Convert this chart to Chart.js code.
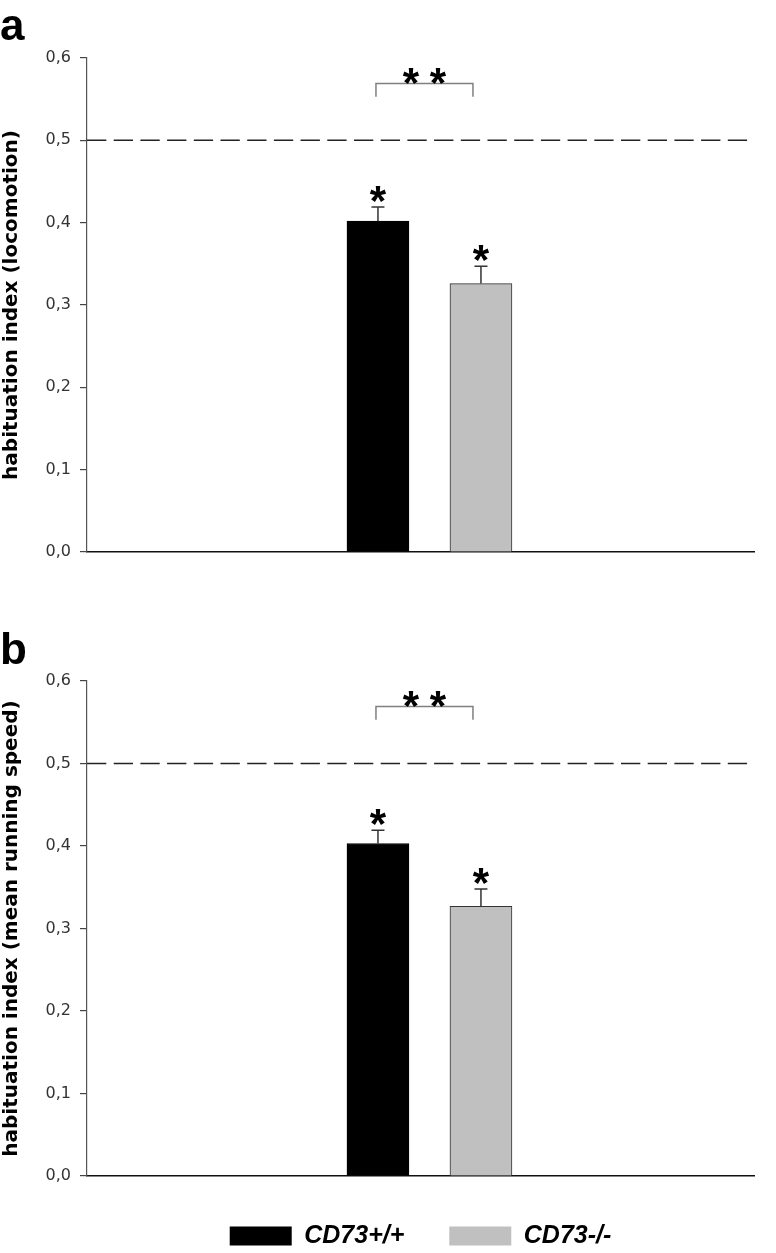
<!DOCTYPE html>
<html><head><meta charset="utf-8">
<script src="https://cdn.jsdelivr.net/npm/chart.js@4/dist/chart.umd.min.js"></script>
<style>
html,body{margin:0;padding:0;background:#fff;overflow:hidden;width:776px;height:1253px;}
#wa{position:absolute;left:0;top:0;width:776px;height:610px;}
#wb{position:absolute;left:0;top:620px;width:776px;height:633px;}
</style></head><body>
<div id="wa"><canvas id="ca"></canvas></div>
<div id="wb"><canvas id="cb"></canvas></div>
<script>
// ---- data ----
const groups = ['CD73+/+', 'CD73-/-'];
const groupIndex = [1, 2];
const barColors = ['#000000', '#c0c0c0'];
const barBorders = ['#000000', '#333333'];
const locomotionMeans = [0.402, 0.326];
const locomotionErrors = [0.017, 0.021];
const speedMeans = [0.403, 0.327];
const speedErrors = [0.016, 0.021];
const yTicks = [0, 0.1, 0.2, 0.3, 0.4, 0.5, 0.6];
const referenceLevel = 0.5;
const bracketLevel = 0.569;
const bracketFoot = 0.553;
const panelLetters = ['a', 'b'];
const yTitles = ['habituation index (locomotion)', 'habituation index (mean running speed)'];
const barStars = ['*', '*'];
const pairStars = ['*', '*'];

// ---- drawing helpers ----
function starAt(ctx, cx, cy) {
  ctx.font = 'bold 42px "Liberation Sans", Arial, sans-serif';
  ctx.textAlign = 'center';
  ctx.textBaseline = 'alphabetic';
  const m = ctx.measureText('*');
  const base = cy + (m.actualBoundingBoxAscent - m.actualBoundingBoxDescent) / 2;
  ctx.fillStyle = '#000';
  ctx.fillText('*', cx, base);
}

const marksPlugin = {
  id: 'marks',
  afterDatasetsDraw(chart, args, opts) {
    const {ctx, chartArea, scales: {y}} = chart;
    const meta = chart.getDatasetMeta(0);
    ctx.save();
    // reference dashed line
    const yr = y.getPixelForValue(referenceLevel);
    ctx.setLineDash([19.3, 7.4]);
    ctx.lineWidth = 1.5;
    ctx.strokeStyle = '#222';
    ctx.beginPath();
    ctx.moveTo(chartArea.left, yr);
    ctx.lineTo(chartArea.right, yr);
    ctx.stroke();
    ctx.setLineDash([]);
    // error bars + stars
    opts.means.forEach((m, i) => {
      const bar = meta.data[i];
      const yt = y.getPixelForValue(m);
      const ye = y.getPixelForValue(m + opts.errors[i]);
      ctx.strokeStyle = '#333';
      ctx.lineWidth = 1.5;
      ctx.beginPath();
      ctx.moveTo(bar.x, yt);
      ctx.lineTo(bar.x, ye);
      ctx.moveTo(bar.x - 6.5, ye);
      ctx.lineTo(bar.x + 6.5, ye);
      ctx.stroke();
      if (barStars[i]) starAt(ctx, bar.x, ye - 13);
    });
    // significance bracket
    const x1 = meta.data[0].x - 2;
    const x2 = meta.data[1].x - 8;
    const yb = y.getPixelForValue(bracketLevel);
    const yf = y.getPixelForValue(bracketFoot);
    ctx.strokeStyle = '#808080';
    ctx.lineWidth = 1.5;
    ctx.beginPath();
    ctx.moveTo(x1, yf);
    ctx.lineTo(x1, yb);
    ctx.lineTo(x2, yb);
    ctx.lineTo(x2, yf);
    ctx.stroke();
    const xm = (x1 + x2) / 2;
    pairStars.forEach((s, k) => starAt(ctx, xm + (k === 0 ? -13.5 : 13.5), yb - 7.5));
    ctx.restore();
  }
};

function makeConfig(means, errors, letter, yTitle, titlePad, withLegend, xAxisHeight, padBottom) {
  return {
    type: 'bar',
    data: {
      datasets: [{
        data: groups.map((g, i) => ({x: groupIndex[i], y: means[i]})),
        backgroundColor: barColors,
        borderColor: barBorders,
        borderWidth: 1,
        barThickness: 62
      }]
    },
    options: {
      responsive: true,
      maintainAspectRatio: false,
      animation: false,
      events: [],
      layout: {padding: {left: 0, right: 22, top: 0, bottom: padBottom}},
      scales: {
        x: {
          type: 'linear', min: -1.825, max: 4.651, offset: false,
          grid: {display: false},
          ticks: {display: false},
          border: {display: true, color: '#111', width: 1.5},
          afterFit: s => { s.height = xAxisHeight; }
        },
        y: {
          min: 0, max: 0.6,
          afterBuildTicks: s => { s.ticks = yTicks.map(v => ({value: v})); },
          ticks: {
            callback: v => Number(v).toFixed(1).replace('.', ','),
            font: {family: '"DejaVu Sans", sans-serif', size: 16},
            color: '#333', padding: 9
          },
          grid: {drawOnChartArea: false, drawTicks: true, tickLength: 7, color: '#444', lineWidth: 1.2},
          border: {display: true, color: '#555', width: 1.2},
          title: {
            display: true, text: yTitle, color: '#000', padding: 0,
            font: {family: '"DejaVu Sans", sans-serif', size: 20, weight: 'bold', lineHeight: 1.2}
          },
          afterFit: s => { s.width = 87; }
        }
      },
      plugins: {
        title: {
          display: true, text: letter, align: 'start', color: '#000', padding: titlePad,
          font: {family: '"Liberation Sans", Arial, sans-serif', size: 44, weight: 'bold', lineHeight: 1}
        },
        legend: withLegend ? {
          display: true, position: 'bottom', fullSize: false,
          labels: {
            boxWidth: 62, boxHeight: 19, padding: 45, color: '#000',
            font: {family: '"Liberation Sans", Arial, sans-serif', size: 25, weight: 'bold', style: 'italic'},
            generateLabels: () => groups.map((g, i) => ({
              text: g, fillStyle: barColors[i], strokeStyle: barColors[i], lineWidth: 0, hidden: false, datasetIndex: 0
            }))
          }
        } : {display: false},
        tooltip: {enabled: false},
        marks: {means: means, errors: errors}
      }
    },
    plugins: [marksPlugin]
  };
}

new Chart(document.getElementById('ca'),
  makeConfig(locomotionMeans, locomotionErrors, panelLetters[0], yTitles[0], {top: 6, bottom: 8}, false, 58, 0));
new Chart(document.getElementById('cb'),
  makeConfig(speedMeans, speedErrors, panelLetters[1], yTitles[1], {top: 10, bottom: 7}, true, 2.5, -5.5));
</script>
</body></html>
